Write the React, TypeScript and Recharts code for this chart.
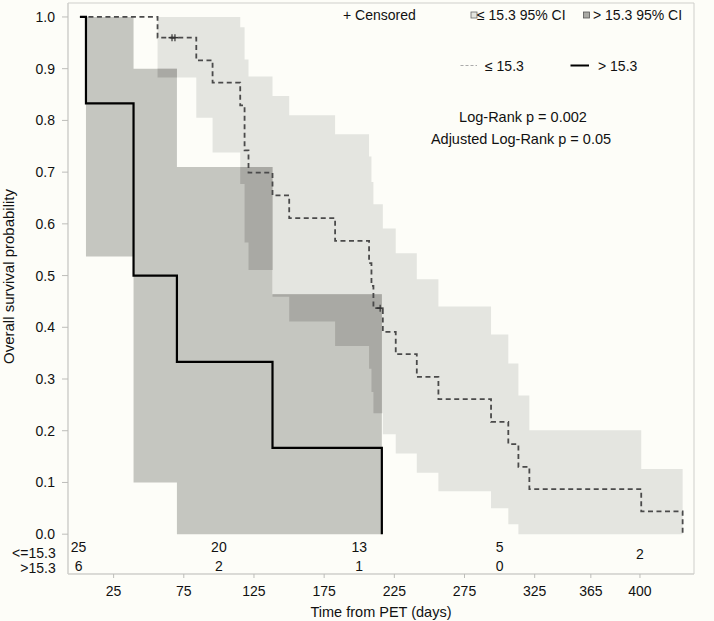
import React from 'react';
import { ComposedChart, Area, Line, Scatter, XAxis, YAxis, ReferenceArea } from 'recharts';

// ---- Data ----
// Group "<= 15.3": Kaplan-Meier step times (days) and survival after each step
const lowTimes = [1, 56.3, 83.9, 95.5, 115.2, 118.3, 121.1, 138.2, 150.1, 182.8, 207.0, 208.7, 210.1, 216.8, 226.0, 241.0, 256.4, 293.9, 306.2, 313.4, 321.2, 400.9, 430.4];
const lowSurv = [1, 0.96, 0.916, 0.873, 0.829, 0.742, 0.699, 0.655, 0.611, 0.567, 0.524, 0.48, 0.437, 0.391, 0.348, 0.304, 0.261, 0.217, 0.174, 0.13, 0.087, 0.044, 0];
const lowCiUpper = [null, 1.0, 1.0, 1.0, 0.98, 0.918, 0.885, 0.847, 0.81, 0.773, 0.73, 0.681, 0.638, 0.591, 0.543, 0.493, 0.44, 0.386, 0.33, 0.268, 0.201, 0.126, 0.126];
const lowCiLower = [null, 0.883, 0.805, 0.738, 0.677, 0.564, 0.511, 0.459, 0.411, 0.364, 0.32, 0.275, 0.234, 0.193, 0.156, 0.119, 0.083, 0.05, 0.019, 0, 0, 0, 0];

// Group "> 15.3"
const highTimes = [1, 5.3, 39.2, 70.1, 138.2, 216.1];
const highSurv = [1, 0.833, 0.5, 0.333, 0.167, 0];
const highCiUpper = [null, 1.0, 0.9, 0.71, 0.464, 0.464];
const highCiLower = [null, 0.537, 0.1, 0, 0, 0];

// Censored observations (group "<= 15.3")
const censorTimes = [66.6, 68.7, 214.9];
const censorSurv = [0.96, 0.96, 0.437];

// Number at risk table
const riskTimes = [0, 100, 200, 300, 400];
const riskLow = ['25', '20', '13', '5', '2'];
const riskHigh = ['6', '2', '1', '0', ''];

const xTicks = [25, 75, 125, 175, 225, 275, 325, 365, 400];
const yTicks = [0, 0.1, 0.2, 0.3, 0.4, 0.5, 0.6, 0.7, 0.8, 0.9, 1.0];

// ---- Layout constants ----
const X_DOMAIN: [number, number] = [-7.5, 438.5];
const Y_DOMAIN: [number, number] = [-0.077, 1.027];
const ROW1_Y = -0.025;
const ROW2_Y = -0.062;
const ROW_MID_Y = -0.038;
const FONT = '"Liberation Sans", Arial, Helvetica, sans-serif';

const C_LIGHT = '#e4e5e0';
const C_DARK = '#c5c6c0';
const C_OVER = '#a9a9a4';
const BG = '#fdfdf8';

// ---- Derived series ----
const lowKm = lowTimes.map((t, i) => ({ t, s: lowSurv[i] }));
const highKm = highTimes.map((t, i) => ({ t, s: highSurv[i] }));
const lowBand = lowTimes
  .map((t, i) => ({ t, band: lowCiUpper[i] == null ? null : [lowCiLower[i] as number, lowCiUpper[i] as number] }))
  .filter((d) => d.band != null);
const highBand = highTimes
  .map((t, i) => ({ t, band: highCiUpper[i] == null ? null : [highCiLower[i] as number, highCiUpper[i] as number] }))
  .filter((d) => d.band != null);

function bandAt(data: { t: number; band: number[] | null }[], x: number): number[] | null {
  if (data.length === 0) return null;
  if (x < data[0].t || x >= data[data.length - 1].t) return null;
  let v: number[] | null = null;
  for (const d of data) {
    if (d.t <= x) v = d.band;
  }
  return v;
}

function buildOverlap() {
  const pts = Array.from(new Set([...lowBand.map((d) => d.t), ...highBand.map((d) => d.t)])).sort((a, b) => a - b);
  const ovs: (number[] | null)[] = [];
  for (let k = 0; k < pts.length - 1; k++) {
    const a = bandAt(lowBand, pts[k]);
    const b = bandAt(highBand, pts[k]);
    if (a && b) {
      const lo = Math.max(a[0], b[0]);
      const hi = Math.min(a[1], b[1]);
      ovs.push(hi > lo ? [lo, hi] : null);
    } else ovs.push(null);
  }
  const rows: { t: number; band: number[] | null }[] = [];
  for (let k = 0; k < ovs.length; k++) {
    const ov = ovs[k];
    if (!ov) continue;
    rows.push({ t: pts[k], band: ov });
    const next = k + 1 < ovs.length ? ovs[k + 1] : null;
    if (!next) {
      rows.push({ t: pts[k + 1], band: ov });
      rows.push({ t: pts[k + 1], band: null });
    }
  }
  return rows;
}
const overlapBand = buildOverlap();

const censorData = censorTimes.map((t, i) => ({ t, s: censorSurv[i] }));
const riskData = [
  ...riskTimes.map((t, i) => ({ t, s: riskHigh[i] === '' ? ROW_MID_Y : ROW1_Y, label: riskLow[i] })),
  ...riskTimes.map((t, i) => ({ t, s: ROW2_Y, label: riskHigh[i] })).filter((d) => d.label !== ''),
];

function CensorMark(props: any) {
  const { cx, cy } = props;
  if (cx == null || cy == null) return null;
  return (
    <g>
      <line x1={cx - 3.5} x2={cx + 3.5} y1={cy} y2={cy} stroke="#333" strokeWidth={1.5} />
      <line x1={cx} x2={cx} y1={cy - 3.5} y2={cy + 3.5} stroke="#333" strokeWidth={1.2} />
    </g>
  );
}

function RiskText(props: any) {
  const { cx, cy, payload } = props;
  if (cx == null || cy == null) return null;
  return (
    <text x={cx} y={cy} dy="0.35em" textAnchor="middle" fontSize={14} fontFamily={FONT} fill="#111">
      {payload.label}
    </text>
  );
}

export default function App() {
  return (
    <div style={{ position: 'absolute', left: 0, top: 0, width: 714, height: 621, background: BG, fontFamily: FONT }}>
      <ComposedChart width={714} height={621} margin={{ top: 3, right: 20, bottom: 0, left: 0 }}>
        <XAxis
          type="number"
          dataKey="t"
          domain={X_DOMAIN}
          allowDataOverflow
          ticks={xTicks}
          height={47}
          tickSize={4}
          tickMargin={8}
          axisLine={{ stroke: '#cfcfcb' }}
          tickLine={{ stroke: '#bdbdb9' }}
          tick={{ fill: '#111', fontSize: 14, fontFamily: FONT }}
        />
        <YAxis
          type="number"
          domain={Y_DOMAIN}
          allowDataOverflow
          ticks={yTicks}
          width={68}
          tickSize={6}
          tickMargin={7}
          tickFormatter={(v: number) => v.toFixed(1)}
          axisLine={{ stroke: '#cfcfcb' }}
          tickLine={{ stroke: '#bdbdb9' }}
          tick={{ fill: '#111', fontSize: 14, fontFamily: FONT }}
        />
        <Area data={lowBand} dataKey="band" type="stepAfter" fill={C_LIGHT} fillOpacity={1} stroke="none" isAnimationActive={false} dot={false} activeDot={false} />
        <Area data={highBand} dataKey="band" type="stepAfter" fill={C_DARK} fillOpacity={1} stroke="none" isAnimationActive={false} dot={false} activeDot={false} />
        <Area data={overlapBand} dataKey="band" type="stepAfter" fill={C_OVER} fillOpacity={1} stroke="none" isAnimationActive={false} dot={false} activeDot={false} />
        <Line data={lowKm} dataKey="s" type="stepAfter" stroke="#4a4a4a" strokeWidth={1.8} strokeDasharray="5 3.5" dot={false} activeDot={false} isAnimationActive={false} />
        <Line data={highKm} dataKey="s" type="stepAfter" stroke="#000" strokeWidth={2.2} dot={false} activeDot={false} isAnimationActive={false} />
        <Scatter data={censorData} dataKey="s" shape={CensorMark} isAnimationActive={false} />
        <Scatter data={riskData} dataKey="s" shape={RiskText} isAnimationActive={false} />
        <ReferenceArea x1={X_DOMAIN[0]} x2={X_DOMAIN[1]} y1={Y_DOMAIN[0]} y2={Y_DOMAIN[1]} fill="none" stroke="#cfcfcb" ifOverflow="visible" />
      </ComposedChart>
      <svg width={714} height={621} style={{ position: 'absolute', left: 0, top: 0, pointerEvents: 'none' }}>
        <g fontFamily={FONT} fontSize={14} fill="#111">
          <text x={343} y={20}>+ Censored</text>
          <rect x={471} y={12} width={6} height={6} fill={C_LIGHT} stroke="#666" strokeWidth={0.8} />
          <text x={477} y={20}>≤ 15.3 95% CI</text>
          <rect x={583.5} y={12} width={6} height={6} fill={C_OVER} stroke="#555" strokeWidth={0.8} />
          <text x={593} y={20}>&gt; 15.3 95% CI</text>
          <line x1={460.5} x2={477} y1={65.5} y2={65.5} stroke="#aaa" strokeWidth={1.2} strokeDasharray="3 2" />
          <text x={485} y={70.5}>≤ 15.3</text>
          <line x1={570.5} x2={589} y1={65.5} y2={65.5} stroke="#000" strokeWidth={2} />
          <text x={598} y={70.5}>&gt; 15.3</text>
          <text x={523} y={122} textAnchor="middle" fontSize={14.5}>Log-Rank p = 0.002</text>
          <text x={521} y={143.5} textAnchor="middle" fontSize={14.5}>Adjusted Log-Rank p = 0.05</text>
          <text x={55.7} y={558} textAnchor="end">&lt;=15.3</text>
          <text x={55.7} y={572.5} textAnchor="end">&gt;15.3</text>
          <text x={381} y={617} textAnchor="middle" fontSize={14.5}>Time from PET (days)</text>
          <text x={13.5} y={276.5} textAnchor="middle" fontSize={15} transform="rotate(-90 13.5 276.5)">Overall survival probability</text>
        </g>
      </svg>
    </div>
  );
}
